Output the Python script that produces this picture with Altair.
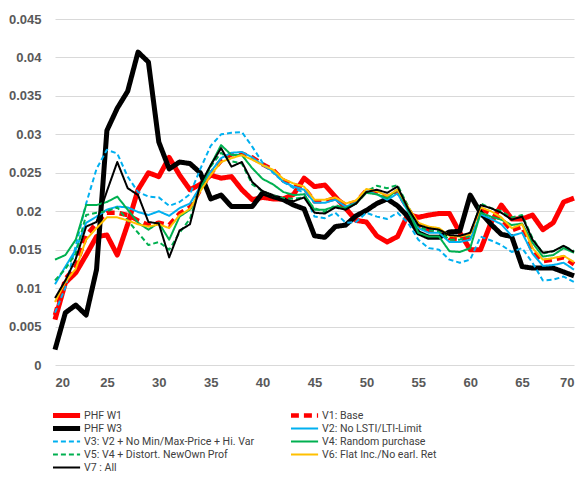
import altair as alt
import pandas as pd

ages = list(range(20, 71))

phf_w1 = [0.0059, 0.0107, 0.012, 0.0143, 0.0167, 0.0169, 0.0143, 0.0183, 0.0228, 0.025,
          0.0245, 0.027, 0.0247, 0.0228, 0.0235, 0.0247, 0.0243, 0.0245, 0.0228, 0.0215,
          0.0218, 0.0216, 0.0216, 0.0222, 0.0243, 0.0232, 0.0234, 0.0219, 0.0204, 0.0188,
          0.0186, 0.0168, 0.016, 0.0167, 0.0196, 0.0192, 0.0195, 0.0197, 0.0197, 0.0172,
          0.015, 0.015, 0.0185, 0.0208, 0.019, 0.019, 0.0195, 0.0176, 0.0185, 0.0212, 0.0217]
phf_w3 = [0.002, 0.0068, 0.0078, 0.0065, 0.0124, 0.0305, 0.0334, 0.0356, 0.0407, 0.0394,
          0.029, 0.0255, 0.0264, 0.0262, 0.025, 0.0216, 0.0221, 0.0206, 0.0206, 0.0206,
          0.0224, 0.0219, 0.0215, 0.0208, 0.0203, 0.0168, 0.0166, 0.018, 0.0182, 0.0194,
          0.0201, 0.021, 0.0216, 0.0207, 0.0193, 0.0172, 0.0166, 0.0166, 0.0173, 0.0174,
          0.0221, 0.0198, 0.0183, 0.017, 0.0167, 0.0128, 0.0126, 0.0126, 0.0126, 0.0121, 0.0116]
v1 = [0.0065, 0.0112, 0.0128, 0.0168, 0.0185, 0.0198, 0.0198, 0.0195, 0.0188, 0.0182,
      0.0185, 0.0182, 0.0197, 0.0205, 0.0228, 0.0249, 0.0266, 0.0274, 0.0275, 0.027,
      0.0261, 0.0254, 0.024, 0.0234, 0.023, 0.0213, 0.0213, 0.0217, 0.0208, 0.0212,
      0.0227, 0.0224, 0.0218, 0.0226, 0.0203, 0.0182, 0.0176, 0.0175, 0.0165, 0.0164,
      0.0167, 0.0203, 0.0197, 0.019, 0.0175, 0.018, 0.0148, 0.0135, 0.0137, 0.014, 0.0131]
v2 = [0.0105, 0.0128, 0.015, 0.0185, 0.0193, 0.0202, 0.0206, 0.0205, 0.0199, 0.0195,
      0.02, 0.0194, 0.0204, 0.021, 0.0232, 0.0251, 0.0269, 0.0276, 0.0277, 0.027,
      0.026, 0.0252, 0.0238, 0.0232, 0.0228, 0.0211, 0.0211, 0.0215, 0.0206, 0.0211,
      0.0226, 0.0222, 0.0215, 0.0223, 0.02, 0.0178, 0.0172, 0.0172, 0.016, 0.016,
      0.0163, 0.0196, 0.019, 0.0183, 0.0168, 0.0172, 0.0145, 0.0129, 0.013, 0.0133, 0.0124]
v3 = [0.0068, 0.0101, 0.0155, 0.021, 0.0255, 0.028, 0.0275, 0.0245, 0.0225, 0.0219,
      0.0218, 0.0207, 0.0212, 0.0222, 0.0255, 0.0285, 0.03, 0.0302, 0.0303, 0.0284,
      0.0263, 0.025, 0.0238, 0.023, 0.0224, 0.0193, 0.0191, 0.0198, 0.0185, 0.0186,
      0.0198, 0.0193, 0.019, 0.0198, 0.0185, 0.0163, 0.0152, 0.015, 0.0137, 0.0133,
      0.0137, 0.0167, 0.0162, 0.0156, 0.0147, 0.0152, 0.0133, 0.011, 0.0111, 0.0115, 0.0108]
v4 = [0.0137, 0.0143, 0.0163, 0.0208, 0.0208, 0.0212, 0.0219, 0.0202, 0.0185, 0.0176,
      0.0185, 0.0163, 0.0193, 0.0202, 0.0228, 0.026, 0.0286, 0.0273, 0.0273, 0.0256,
      0.0242, 0.0235, 0.0225, 0.0221, 0.0222, 0.0202, 0.0202, 0.0206, 0.0204, 0.021,
      0.0224, 0.0222, 0.0217, 0.0228, 0.0202, 0.0172, 0.0167, 0.0167, 0.0148, 0.0147,
      0.0152, 0.0198, 0.0193, 0.0189, 0.0182, 0.0184, 0.0159, 0.0141, 0.0143, 0.0152, 0.0146]
v5 = [0.011, 0.0125, 0.0145, 0.0195, 0.0198, 0.02, 0.0205, 0.0188, 0.0172, 0.0156,
      0.016, 0.015, 0.0172, 0.019, 0.0232, 0.0258, 0.0276, 0.0265, 0.0262, 0.0235,
      0.0226, 0.022, 0.0217, 0.0216, 0.0218, 0.0204, 0.0199, 0.0208, 0.0204, 0.021,
      0.0226, 0.0233, 0.023, 0.0234, 0.0207, 0.018, 0.0175, 0.0174, 0.0163, 0.0163,
      0.0168, 0.021, 0.0204, 0.02, 0.0192, 0.0195, 0.0165, 0.0145, 0.0148, 0.0155, 0.0148]
v6 = [0.0082, 0.0108, 0.0125, 0.0163, 0.0178, 0.0192, 0.0192, 0.0188, 0.0183, 0.018,
      0.0183, 0.0178, 0.0195, 0.0203, 0.0226, 0.0247, 0.0264, 0.0269, 0.0273, 0.0267,
      0.026, 0.0254, 0.0242, 0.0236, 0.0232, 0.0215, 0.0215, 0.0218, 0.021, 0.0214,
      0.0229, 0.0226, 0.022, 0.0228, 0.0206, 0.0185, 0.018, 0.0178, 0.0168, 0.0167,
      0.017, 0.0205, 0.02, 0.0192, 0.0178, 0.0183, 0.0152, 0.0137, 0.0139, 0.0142, 0.0134]
v7 = [0.0087, 0.011, 0.0138, 0.018, 0.0186, 0.0226, 0.0264, 0.023, 0.0221, 0.0186,
      0.0184, 0.014, 0.0175, 0.0183, 0.0235, 0.026, 0.0282, 0.0258, 0.0264, 0.0238,
      0.0226, 0.022, 0.0215, 0.0213, 0.0218, 0.0198, 0.0197, 0.0205, 0.0202, 0.021,
      0.0225, 0.0228, 0.0224, 0.0232, 0.0204, 0.0182, 0.0178, 0.0176, 0.0169, 0.0168,
      0.0172, 0.0208, 0.0204, 0.0198, 0.0189, 0.0193, 0.0163, 0.0146, 0.0148, 0.0155, 0.0147]

# drawing order (first drawn at the bottom)
series_names = ["PHF W1", "V1: Base", "PHF W3", "V2: No LSTI/LTI-Limit",
                "V3: V2 + No Min/Max-Price + Hi. Var", "V4: Random purchase",
                "V5: V4 + Distort. NewOwn Prof", "V6: Flat Inc./No earl. Ret", "V7 : All"]
series_values = [phf_w1, v1, phf_w3, v2, v3, v4, v5, v6, v7]
colors = ["#FF0000", "#FF0000", "#000000", "#00B0F0", "#00B0F0",
          "#00B050", "#00B050", "#FFC000", "#000000"]
widths = [5, 4.5, 5, 2, 2, 2, 2, 2, 2]
dashes = [[1, 0], [8, 5], [1, 0], [1, 0], [5, 3], [1, 0], [5, 3], [1, 0], [1, 0]]

# legend order (legend fills column by column)
legend_order = ["PHF W1", "PHF W3", "V3: V2 + No Min/Max-Price + Hi. Var",
                "V5: V4 + Distort. NewOwn Prof", "V7 : All",
                "V1: Base", "V2: No LSTI/LTI-Limit", "V4: Random purchase",
                "V6: Flat Inc./No earl. Ret"]
idx = [series_names.index(n) for n in legend_order]
leg_colors = [colors[i] for i in idx]
leg_widths = [widths[i] for i in idx]
leg_dashes = [dashes[i] for i in idx]

y_ticks = [0, 0.005, 0.01, 0.015, 0.02, 0.025, 0.03, 0.035, 0.04, 0.045]
x_ticks = [20, 25, 30, 35, 40, 45, 50, 55, 60, 65, 70]

rows = []
for name, vals in zip(series_names, series_values):
    for a, v in zip(ages, vals):
        rows.append({"series": name, "age": a, "value": v})
df = pd.DataFrame(rows)

LEG_FONT = "Liberation Sans Narrow, Roboto, sans-serif"
AX_FONT = "Liberation Sans, Arial, sans-serif"

leg = alt.Legend(
    title=None, orient="none", legendX=-2, legendY=390, columns=2, direction="vertical",
    symbolType="M-3.4,0H3.4", symbolSize=64, symbolOffset=7,
    labelFont=LEG_FONT, labelFontSize=10.6, labelColor="#404040", labelOffset=11,
    labelLimit=400, rowPadding=0, columnPadding=36, padding=0, clipHeight=13,
)

chart = alt.Chart(df).mark_line(strokeCap="butt", strokeJoin="round").encode(
    x=alt.X("age:Q", scale=alt.Scale(domain=[20, 70], nice=False, zero=False),
            axis=alt.Axis(values=x_ticks, grid=False, ticks=False, domain=False, title=None,
                          labelFont=AX_FONT, labelFontSize=13, labelFontWeight="bold",
                          labelColor="#595959", labelPadding=11)),
    y=alt.Y("value:Q", scale=alt.Scale(domain=[0, 0.045], nice=False),
            axis=alt.Axis(values=y_ticks, format="~g", grid=True, gridColor="#D9D9D9",
                          ticks=False, domain=False, title=None,
                          labelFont=AX_FONT, labelFontSize=13, labelFontWeight="bold",
                          labelColor="#595959", labelPadding=14)),
    color=alt.Color("series:N", scale=alt.Scale(domain=legend_order, range=leg_colors), legend=leg),
    strokeDash=alt.StrokeDash("series:N", scale=alt.Scale(domain=legend_order, range=leg_dashes), legend=leg),
    strokeWidth=alt.StrokeWidth("series:N", scale=alt.Scale(type="ordinal", domain=legend_order, range=leg_widths), legend=leg),
).properties(
    width=519, height=346,
    autosize=alt.AutoSizeParams(type="none"),
    padding={"left": 47, "top": 11, "right": 2, "bottom": 108},
).configure_view(stroke=None)

chart.save("out.html", embed_options={"renderer": "svg", "actions": False})
